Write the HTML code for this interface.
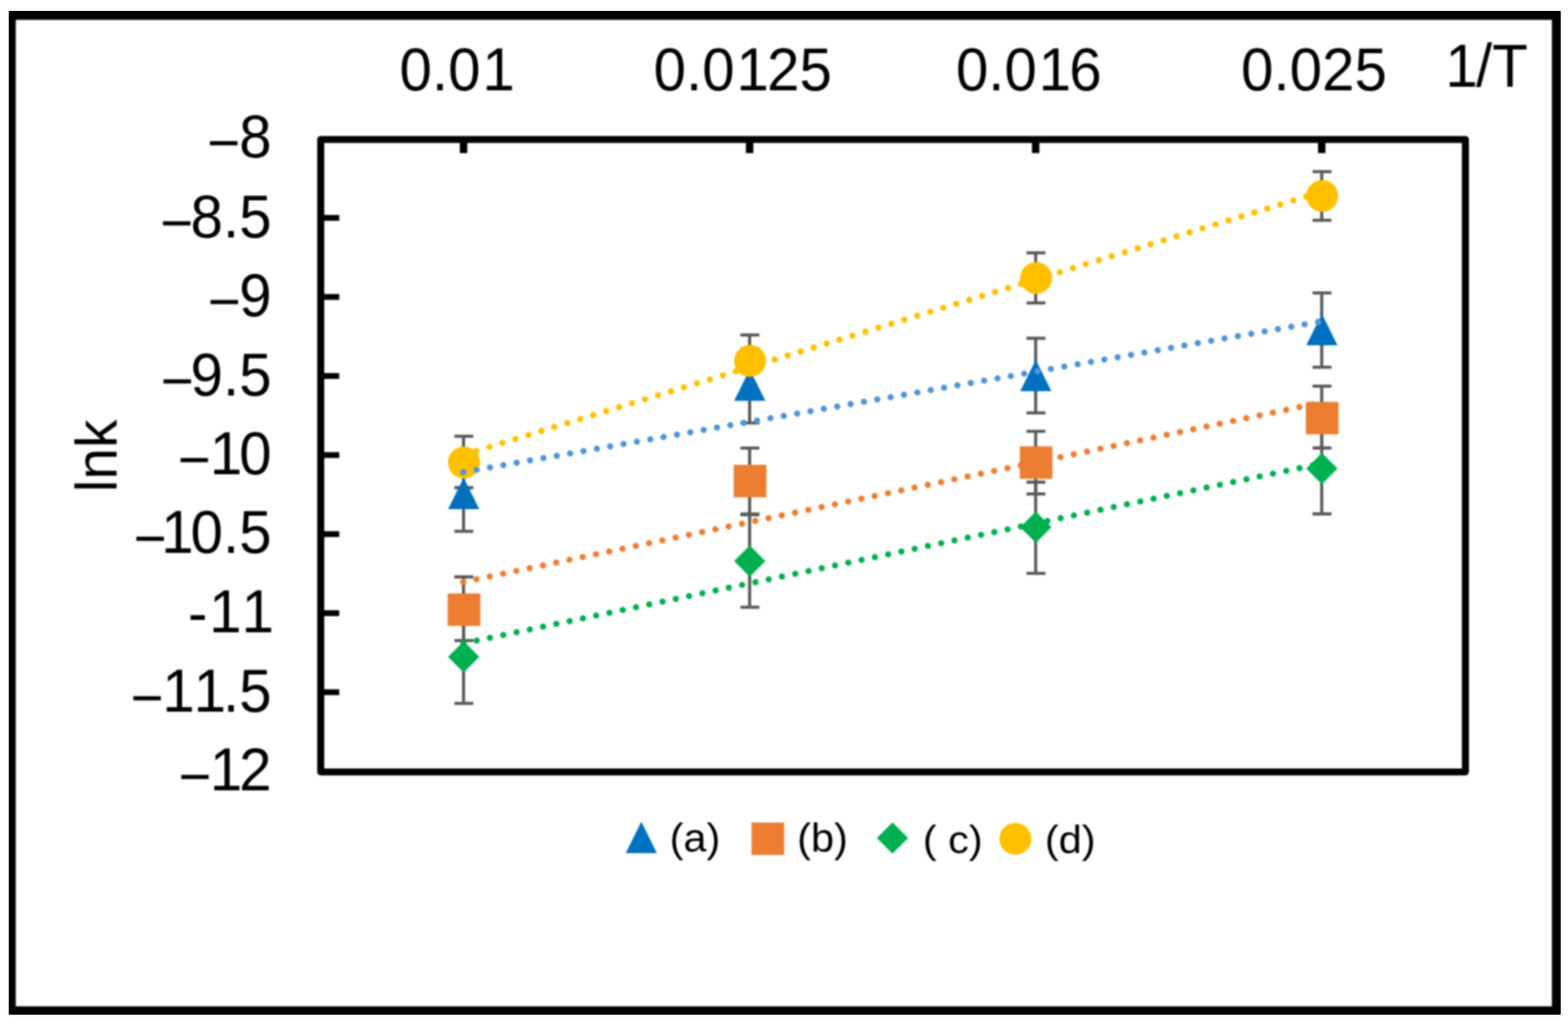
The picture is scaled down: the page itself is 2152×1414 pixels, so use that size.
<!DOCTYPE html>
<html lang="en">
<head>
<meta charset="utf-8">
<title>lnk versus 1/T</title>
<style>
html,body{margin:0;padding:0;background:#fff;}
body{width:2152px;height:1414px;overflow:hidden;}
svg{display:block;}
text{font-family:"Liberation Sans",sans-serif;fill:#000;font-kerning:none;}
.tick{font-size:80px;}
.dash{font-size:66px;stroke:#000;stroke-width:1.1px;}
.leg{font-size:57px;}
</style>
</head>
<body>
<svg width="2152" height="1414" viewBox="0 0 2152 1414">
<defs>
<filter id="soft" filterUnits="userSpaceOnUse" x="0" y="0" width="2152" height="1414" color-interpolation-filters="sRGB">
<feGaussianBlur stdDeviation="0.9"/>
</filter>
<clipPath id="edge"><rect x="12" y="14.9" width="2130" height="1378.1" rx="1.2"/></clipPath>
</defs>
<rect x="0" y="0" width="2152" height="1414" fill="#fff"/>
<g filter="url(#soft)">
<rect x="0" y="0" width="2152" height="1414" fill="#fff"/>

<!-- plot frame and ticks -->
<rect x="440.2" y="191.5" width="1571" height="868.2" fill="none" stroke="#000" stroke-width="9.6" stroke-linejoin="round"/>
<rect x="631.1" y="191.5" width="10.2" height="18.7" fill="#000"/>
<rect x="1023.7" y="191.5" width="10.2" height="18.7" fill="#000"/>
<rect x="1416.3" y="191.5" width="10.2" height="18.7" fill="#000"/>
<rect x="1808.9" y="191.5" width="10.2" height="18.7" fill="#000"/>
<rect x="440.2" y="295.12" width="25.4" height="8" fill="#000"/>
<rect x="440.2" y="403.65" width="25.4" height="8" fill="#000"/>
<rect x="440.2" y="512.18" width="25.4" height="8" fill="#000"/>
<rect x="440.2" y="620.7" width="25.4" height="8" fill="#000"/>
<rect x="440.2" y="729.23" width="25.4" height="8" fill="#000"/>
<rect x="440.2" y="837.75" width="25.4" height="8" fill="#000"/>
<rect x="440.2" y="946.28" width="25.4" height="8" fill="#000"/>
<!-- y axis labels -->
<text class="tick" transform="translate(0,216) scale(1,1.035)" y="0"><tspan class="dash" x="288.86" y="-1.8">–</tspan><tspan x="328.31" y="0">8</tspan></text>
<text class="tick" transform="translate(0,325.6) scale(1,1.035)" y="0"><tspan class="dash" x="224.16" y="-1.8">–</tspan><tspan x="261.59 306.08 328.31" y="0">8.5</tspan></text>
<text class="tick" transform="translate(0,433.7) scale(1,1.035)" y="0"><tspan class="dash" x="289.56" y="-1.8">–</tspan><tspan x="328.31" y="0">9</tspan></text>
<text class="tick" transform="translate(0,543.3) scale(1,1.035)" y="0"><tspan class="dash" x="225.06" y="-1.8">–</tspan><tspan x="261.59 306.08 328.31" y="0">9.5</tspan></text>
<text class="tick" transform="translate(0,651.2) scale(1,1.035)" y="0"><tspan class="dash" x="248.26" y="-1.8">–</tspan><tspan x="288.02 328.31" y="0">10</tspan></text>
<text class="tick" transform="translate(0,759.3) scale(1,1.035)" y="0"><tspan class="dash" x="187.71" y="-1.8">–</tspan><tspan x="221.3 261.59 306.08 328.31" y="0">10.5</tspan></text>
<text class="tick" transform="translate(0,867.6) scale(1,1.035)" y="0"><tspan x="257.98" y="2">-</tspan><tspan x="287.12 331.61" y="0">11</tspan></text>
<text class="tick" transform="translate(0,977.4) scale(1,1.035)" y="0"><tspan class="dash" x="183.46" y="-1.8">–</tspan><tspan x="222.7 265.79 306.08 328.31" y="0">11.5</tspan></text>
<text class="tick" transform="translate(0,1085.4) scale(1,1.035)" y="0"><tspan class="dash" x="249.31" y="-1.8">–</tspan><tspan x="288.02 328.31" y="0">12</tspan></text>
<!-- x axis labels -->
<text class="tick" transform="translate(0,123.6) scale(1,1.035)" x="548.17 592.67 614.89 661.89" y="0">0.01</text>
<text class="tick" transform="translate(0,123.6) scale(1,1.035)" x="897.08 941.57 963.79 1010.79 1052.78 1097.27" y="0">0.0125</text>
<text class="tick" transform="translate(0,123.6) scale(1,1.035)" x="1311.88 1356.37 1378.59 1425.59 1467.58" y="0">0.016</text>
<text class="tick" transform="translate(0,123.6) scale(1,1.035)" x="1703.38 1747.87 1770.09 1814.59 1859.08" y="0">0.025</text>
<text class="tick" transform="translate(0,118.6) scale(1,1.035)" x="1983.75 2025.74 2047.97" y="0">1/T</text>
<text class="tick" transform="translate(160,625.9) rotate(-90) scale(0.975,1)" text-anchor="middle">lnk</text>
<!-- error bars -->
<path d="M636.2,626.7 V729.3 M623.6,626.7 h26 M623.6,729.3 h26" stroke="#5a5a5a" stroke-width="4.3" fill="none"/>
<path d="M1028.8,478.6 V580.6 M1016.2,478.6 h26 M1016.2,580.6 h26" stroke="#5a5a5a" stroke-width="4.3" fill="none"/>
<path d="M1421.4,464.3 V566.9 M1408.8,464.3 h26 M1408.8,566.9 h26" stroke="#5a5a5a" stroke-width="4.3" fill="none"/>
<path d="M1814,402.2 V504.2 M1801.4,402.2 h26 M1801.4,504.2 h26" stroke="#5a5a5a" stroke-width="4.3" fill="none"/>
<path d="M636.2,792 V879.4 M623.6,792 h26 M623.6,879.4 h26" stroke="#5a5a5a" stroke-width="4.3" fill="none"/>
<path d="M1028.8,615.2 V705.6 M1016.2,615.2 h26 M1016.2,705.6 h26" stroke="#5a5a5a" stroke-width="4.3" fill="none"/>
<path d="M1421.4,592.2 V678.2 M1408.8,592.2 h26 M1408.8,678.2 h26" stroke="#5a5a5a" stroke-width="4.3" fill="none"/>
<path d="M1814,530.2 V615 M1801.4,530.2 h26 M1801.4,615 h26" stroke="#5a5a5a" stroke-width="4.3" fill="none"/>
<path d="M636.2,838 V965.6 M623.6,838 h26 M623.6,965.6 h26" stroke="#5a5a5a" stroke-width="4.3" fill="none"/>
<path d="M1028.8,706.7 V833.7 M1016.2,706.7 h26 M1016.2,833.7 h26" stroke="#5a5a5a" stroke-width="4.3" fill="none"/>
<path d="M1421.4,661.8 V787.2 M1408.8,661.8 h26 M1408.8,787.2 h26" stroke="#5a5a5a" stroke-width="4.3" fill="none"/>
<path d="M1814,580.5 V705.5 M1801.4,580.5 h26 M1801.4,705.5 h26" stroke="#5a5a5a" stroke-width="4.3" fill="none"/>
<path d="M636.2,598.9 V669.5 M623.6,598.9 h26 M623.6,669.5 h26" stroke="#5a5a5a" stroke-width="4.3" fill="none"/>
<path d="M1028.8,459.8 V527.8 M1016.2,459.8 h26 M1019.2,527.8 h20" stroke="#5a5a5a" stroke-width="4.3" fill="none"/>
<path d="M1421.4,347.1 V415.9 M1408.8,347.1 h26 M1408.8,415.9 h26" stroke="#5a5a5a" stroke-width="4.3" fill="none"/>
<path d="M1814,235.7 V302.3 M1801.4,235.7 h26 M1801.4,302.3 h26" stroke="#5a5a5a" stroke-width="4.3" fill="none"/>
<!-- markers -->
<polygon points="636.4,655.8 657.8,699 615,699" fill="#0070C0"/>
<polygon points="1029,507 1050.4,550.2 1007.6,550.2" fill="#0070C0"/>
<polygon points="1421.6,493.8 1443,537 1400.2,537" fill="#0070C0"/>
<polygon points="1814.2,430.8 1835.6,474 1792.8,474" fill="#0070C0"/>
<rect x="614.4" y="814.7" width="44.8" height="44.6" fill="#ED7D31"/>
<rect x="1007" y="638.1" width="44.8" height="44.6" fill="#ED7D31"/>
<rect x="1399.6" y="612.7" width="44.8" height="44.6" fill="#ED7D31"/>
<rect x="1792.2" y="551.7" width="44.8" height="44.6" fill="#ED7D31"/>
<polygon points="636.4,880.3 657.9,901.8 636.4,923.3 614.9,901.8" fill="#00B050"/>
<polygon points="1029,748.7 1050.5,770.2 1029,791.7 1007.5,770.2" fill="#00B050"/>
<polygon points="1421.6,702.2 1443.1,723.7 1421.6,745.2 1400.1,723.7" fill="#00B050"/>
<polygon points="1814.2,621.8 1835.7,643.3 1814.2,664.8 1792.7,643.3" fill="#00B050"/>
<circle cx="636.8" cy="634.9" r="21.9" fill="#FFC000"/>
<circle cx="1029.4" cy="495.4" r="21.9" fill="#FFC000"/>
<circle cx="1422" cy="381.6" r="21.9" fill="#FFC000"/>
<circle cx="1814.6" cy="268.9" r="21.9" fill="#FFC000"/>
<!-- dotted linear trend lines -->
<line x1="635.8" y1="648.2" x2="1814" y2="441.19" stroke="#5094D8" stroke-width="8.6" stroke-linecap="round" stroke-dasharray="0.01 18.6"/>
<line x1="635.8" y1="799" x2="1814" y2="552.4" stroke="#ED7D31" stroke-width="8.6" stroke-linecap="round" stroke-dasharray="0.01 18.6"/>
<line x1="636.05" y1="883.2" x2="1814" y2="636.18" stroke="#00B050" stroke-width="8.6" stroke-linecap="round" stroke-dasharray="0.01 18.6"/>
<line x1="636.2" y1="624.4" x2="1814" y2="263.29" stroke="#FFC000" stroke-width="8.6" stroke-linecap="round" stroke-dasharray="0.01 18.6"/>
<!-- legend -->
<polygon points="880.15,1128 901.55,1171.2 858.75,1171.2" fill="#0070C0"/>
<rect x="1031.45" y="1129.2" width="44.8" height="44.6" fill="#ED7D31"/>
<polygon points="1224.9,1129 1246.4,1150.5 1224.9,1172 1203.4,1150.5" fill="#00B050"/>
<circle cx="1393.5" cy="1151.6" r="21.9" fill="#FFC000"/>
<text class="leg" transform="translate(919,1169.3) scale(1,0.97)" xml:space="preserve">(a)</text>
<text class="leg" transform="translate(1094,1169.3) scale(1,0.97)" xml:space="preserve">(b)</text>
<text class="leg" transform="translate(1266.5,1171.3) scale(1,0.95)" xml:space="preserve">( c)</text>
<text class="leg" transform="translate(1434,1171.3) scale(1,0.95)" xml:space="preserve">(d)</text>
</g>
<!-- outer border: crisp outside edge, soft inside edge -->
<g clip-path="url(#edge)"><path filter="url(#soft)" fill="#000" fill-rule="evenodd" d="M0,0 H2152 V1414 H0 Z M21.6,27.2 H2129.9 V1381.5 H21.6 Z"/></g>
</svg>
</body>
</html>
